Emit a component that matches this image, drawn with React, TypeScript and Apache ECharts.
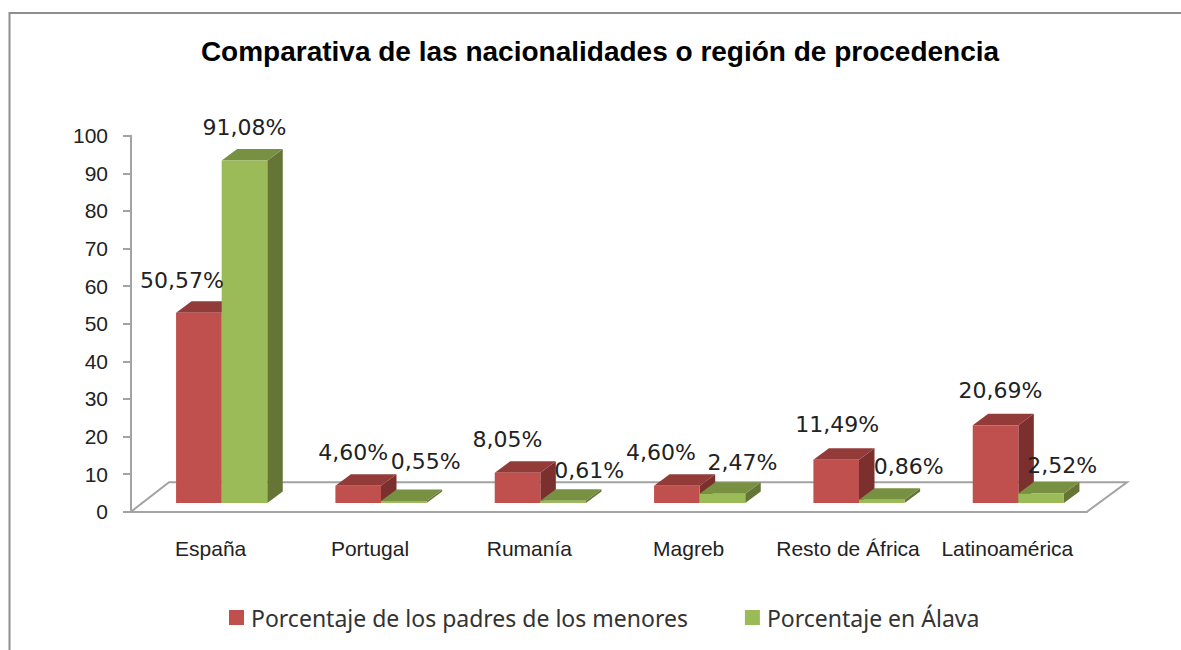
import React, { useEffect, useRef } from "react";
import * as echarts from "echarts";

const categories = ["España", "Portugal", "Rumanía", "Magreb", "Resto de África", "Latinoamérica"];
const padresValues = [50.57, 4.6, 8.05, 4.6, 11.49, 20.69];
const alavaValues = [91.08, 0.55, 0.61, 2.47, 0.86, 2.52];
const yTicks = { min: 0, max: 100, interval: 10 };
const titleText = "Comparativa de las nacionalidades o región de procedencia";
const padresName = "Porcentaje de los padres de los menores";
const alavaName = "Porcentaje en Álava";

// hand-placed label nudges from the original chart (pixels from the top of the bar)
const padresNudge = [[-17, -21], [-5, -22], [-10, -22], [-16, -22], [1, -24], [5, -23]];
const alavaNudge = [[0, -22], [22, -28], [26, -19], [20, -20], [27, -22], [21, -17]];

const GRID = { left: 131, top: 135.7, width: 956, height: 376 };
const BAR_W = 45.6;
const JUNCTION = 11; // px from band centre to where both bars meet
const DEPTH_X = 15.5;
const DEPTH_Y = 11.5;
const FLOOR_LIFT = 8.7;
const GREY = "#a3a3a3";

const fmt = (v: number) => v.toFixed(2).replace(".", ",") + "%";

function barRenderer(side: "left" | "right", nudges: number[][], colors: { front: string; top: string; side: string }) {
  return (params: any, api: any) => {
    const i = api.value(0);
    const v = api.value(1);
    const [cx, yVal] = api.coord([i, v]);
    const y0 = api.coord([i, 0])[1];
    const base = y0 - FLOOR_LIFT;
    const top = yVal - FLOOR_LIFT;
    const x0 = side === "left" ? cx + JUNCTION - BAR_W : cx + JUNCTION;
    const x1 = x0 + BAR_W;
    const [nx, ny] = nudges[i];
    return {
      type: "group",
      children: [
        {
          type: "polygon",
          shape: { points: [[x1, base], [x1 + DEPTH_X, base - DEPTH_Y], [x1 + DEPTH_X, top - DEPTH_Y], [x1, top]] },
          style: { fill: colors.side },
        },
        {
          type: "polygon",
          shape: { points: [[x0, top], [x0 + DEPTH_X, top - DEPTH_Y], [x1 + DEPTH_X, top - DEPTH_Y], [x1, top]] },
          style: { fill: colors.top },
        },
        {
          type: "rect",
          shape: { x: x0, y: top, width: BAR_W, height: base - top },
          style: { fill: colors.front },
        },
        {
          type: "text",
          z2: 100,
          x: (x0 + x1) / 2 + nx,
          y: top - DEPTH_Y + ny,
          style: {
            text: fmt(v),
            fill: "#222222",
            fontFamily: "DejaVu Sans",
            fontSize: 22,
            align: "center",
            verticalAlign: "middle",
          },
        },
      ],
    };
  };
}

function floorRenderer(params: any, api: any) {
  const [xa, ya] = api.coord([0, 0]);
  const n = categories.length;
  const band = GRID.width / n;
  const left = xa - band / 2;
  const right = left + GRID.width;
  return {
    type: "polyline",
    shape: { points: [[left, ya], [left + 38, ya - 29.5], [right + 40, ya - 29.5], [right, ya]] },
    style: { fill: "none", stroke: GREY, lineWidth: 2 },
  };
}

export default function App() {
  const ref = useRef<HTMLDivElement>(null);
  useEffect(() => {
    const chart = echarts.init(ref.current!, undefined, { renderer: "svg" });
    chart.setOption({
      animation: false,
      backgroundColor: "#ffffff",
      title: {
        text: titleText,
        left: 595,
        top: 32,
        textAlign: "center",
        textStyle: { fontFamily: "Liberation Sans", fontSize: 28, fontWeight: "bold", color: "#000000" },
      },
      legend: {
        data: [padresName, alavaName],
        left: 224,
        top: 601,
        icon: "rect",
        itemWidth: 15,
        itemHeight: 15,
        itemGap: 57,
        textStyle: { fontFamily: "Noto Sans", fontSize: 23, color: "#333333", padding: [0, 0, 0, 2] },
      },
      grid: { ...GRID },
      xAxis: {
        type: "category",
        data: categories,
        axisLine: { lineStyle: { color: GREY, width: 2 } },
        axisTick: { length: 8, lineStyle: { color: GREY, width: 2 }, inside: false },
        axisLabel: { fontFamily: "Liberation Sans", fontSize: 21, color: "#222222", margin: 26, interval: 0 },
      },
      yAxis: {
        type: "value",
        min: yTicks.min,
        max: yTicks.max,
        interval: yTicks.interval,
        splitLine: { show: false },
        axisLine: { show: true, lineStyle: { color: GREY, width: 2 } },
        axisTick: { show: true, length: 8, lineStyle: { color: GREY, width: 2 } },
        axisLabel: { fontFamily: "Liberation Sans", fontSize: 21, color: "#222222", margin: 23 },
      },
      graphic: [
        {
          type: "polyline",
          silent: true,
          shape: { points: [[9.5, 650], [9.5, 13], [1181, 13]] },
          style: { fill: "none", stroke: "#8f8f8f", lineWidth: 2 },
        },
      ],
      series: [
        {
          type: "custom",
          name: "floor",
          silent: true,
          renderItem: floorRenderer,
          data: [[0, 0]],
          encode: { x: 0, y: 1 },
        },
        {
          type: "custom",
          name: padresName,
          itemStyle: { color: "#C0504D" },
          renderItem: barRenderer("left", padresNudge, { front: "#C0504D", top: "#933B39", side: "#7B302E" }),
          data: padresValues.map((v, i) => [i, v]),
          encode: { x: 0, y: 1 },
        },
        {
          type: "custom",
          name: alavaName,
          itemStyle: { color: "#9BBB59" },
          renderItem: barRenderer("right", alavaNudge, { front: "#9BBB59", top: "#789041", side: "#647535" }),
          data: alavaValues.map((v, i) => [i, v]),
          encode: { x: 0, y: 1 },
        },
      ],
    });
    return () => chart.dispose();
  }, []);
  return <div ref={ref} style={{ position: "absolute", left: 0, top: 0, width: 1181, height: 650 }} />;
}
